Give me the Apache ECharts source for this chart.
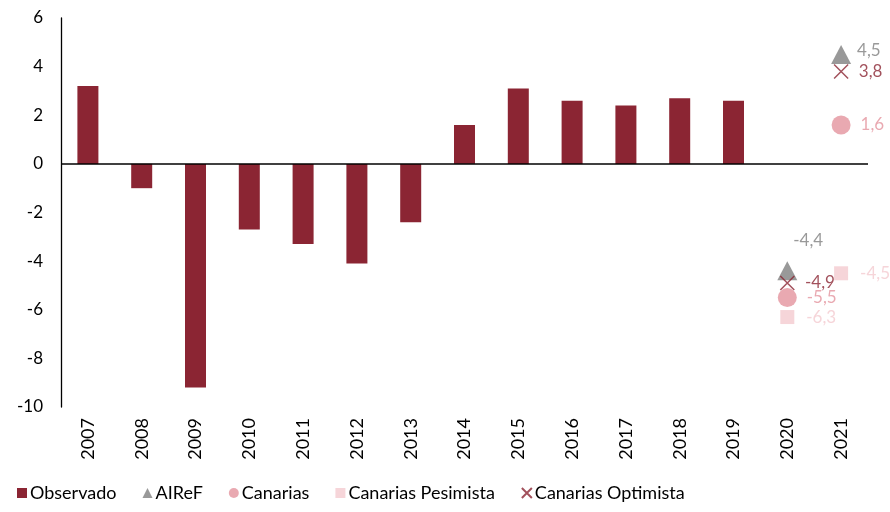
<!DOCTYPE html>
<html>
<head>
<meta charset="utf-8">
<script src="https://cdn.jsdelivr.net/npm/echarts@6/dist/echarts.min.js"></script>
<style>
  html, body { margin: 0; padding: 0; background: #fff; }
  #chart { width: 890px; height: 512px; }
</style>
</head>
<body>
<div id="chart"></div>
<script>
// datos
var years = ['2007', '2008', '2009', '2010', '2011', '2012', '2013', '2014',
    '2015', '2016', '2017', '2018', '2019', '2020', '2021'];
var observado = [3.2, -1.0, -9.2, -2.7, -3.3, -4.1, -2.4, 1.6, 3.1, 2.6, 2.4, 2.7, 2.6, null, null];
var airef = [null, null, null, null, null, null, null, null, null, null, null, null, null, -4.4, 4.5];
var canarias = [null, null, null, null, null, null, null, null, null, null, null, null, null, -5.5, 1.6];
var pesimista = [null, null, null, null, null, null, null, null, null, null, null, null, null, -6.3, -4.5];
var optimista = [null, null, null, null, null, null, null, null, null, null, null, null, null, -4.9, 3.8];

var font = 'Lato';
var cRojo = '#8B2533';
var cGris = '#7F7F7F';
var cRosa = '#E4939D';
var cPalido = '#F4CBD0';

function coma(p) {
    return String(p.value).replace('.', ',');
}

function toPoints(arr) {
    return arr.map(function (v) { return v === null ? '-' : v; });
}

var chart = echarts.init(document.getElementById('chart'));
chart.setOption({
    animation: false,
    textStyle: { fontFamily: font },
    grid: {
        left: 61,
        right: 22,
        top: 18,
        bottom: 105
    },
    legend: {
        left: 12,
        bottom: 5,
        itemWidth: 10,
        itemHeight: 10,
        itemGap: 26,
        textStyle: { fontFamily: font, fontSize: 18, color: '#000', padding: [0, 0, 0, -2] },
        data: [
            { name: 'Observado', icon: 'rect' },
            { name: 'AIReF', icon: 'triangle' },
            { name: 'Canarias', icon: 'circle' },
            { name: 'Canarias Pesimista', icon: 'rect' },
            { name: 'Canarias Optimista' }
        ]
    },
    xAxis: {
        type: 'category',
        data: years,
        axisLine: { show: false, onZero: false },
        axisTick: { show: false },
        axisLabel: {
            rotate: 90,
            margin: 11,
            fontSize: 18,
            color: '#000',
            fontFamily: font
        }
    },
    yAxis: {
        type: 'value',
        min: -10,
        max: 6,
        interval: 2,
        axisLine: { show: true, lineStyle: { color: '#000', width: 1.3 } },
        axisTick: { show: false },
        splitLine: { show: false },
        axisLabel: {
            margin: 18,
            fontSize: 17,
            color: '#000',
            fontFamily: font
        }
    },
    series: [
        {
            name: 'Observado',
            type: 'bar',
            data: observado,
            barWidth: 21,
            itemStyle: { color: cRojo },
            markLine: {
                silent: true,
                symbol: 'none',
                label: { show: false },
                lineStyle: { color: '#000', width: 1.5, type: 'solid' },
                data: [{ yAxis: 0 }]
            }
        },
        {
            name: 'AIReF',
            type: 'scatter',
            symbol: 'triangle',
            symbolSize: [20, 19],
            itemStyle: { color: cGris },
            data: toPoints(airef),
            label: {
                show: true,
                position: 'right',
                distance: 6,
                fontSize: 17,
                color: cGris,
                formatter: coma
            },
            labelLayout: function (p) {
                if (p.dataIndex === 13) {
                    return { dy: -30, dx: -10 };
                }
                return { dy: -4 };
            }
        },
        {
            name: 'Canarias',
            type: 'scatter',
            symbol: 'circle',
            symbolSize: 19,
            itemStyle: { color: cRosa },
            data: toPoints(canarias),
            label: {
                show: true,
                position: 'right',
                distance: 10,
                fontSize: 17,
                color: cRosa,
                formatter: coma
            }
        },
        {
            name: 'Canarias Pesimista',
            type: 'scatter',
            symbol: 'rect',
            symbolSize: 14,
            itemStyle: { color: cPalido },
            data: toPoints(pesimista),
            label: {
                show: true,
                position: 'right',
                distance: 12,
                fontSize: 17,
                color: cPalido,
                formatter: coma
            }
        },
        {
            name: 'Canarias Optimista',
            type: 'scatter',
            symbol: 'path://M0,0 L10,10 M10,0 L0,10',
            symbolSize: 14,
            itemStyle: { color: 'transparent', borderColor: cRojo, borderWidth: 1.5 },
            data: toPoints(optimista),
            label: {
                show: true,
                position: 'right',
                distance: 10,
                fontSize: 17,
                color: cRojo,
                formatter: coma
            }
        }
    ]
});
</script>
</body>
</html>
